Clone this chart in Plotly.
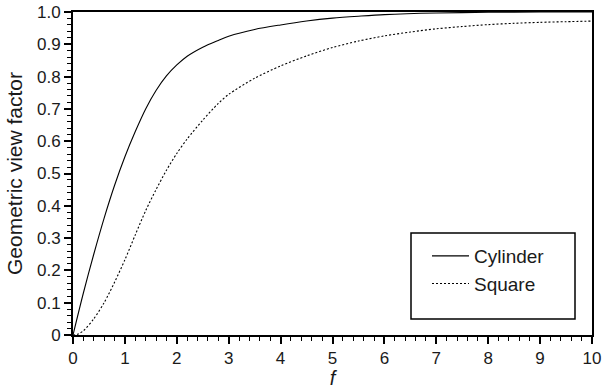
import plotly.graph_objects as go

# Data
f_cyl = [0, 0.2, 0.4, 0.6, 0.8, 1.0, 1.2, 1.4, 1.6, 1.8, 2.0, 2.2, 2.5, 2.8, 3.0,
         3.5, 4.0, 4.5, 5.0, 5.5, 6.0, 7.0, 8.0, 9.0, 10.0]
cylinder = [0, 0.13, 0.25, 0.362, 0.463, 0.552, 0.63, 0.70, 0.757, 0.802, 0.836,
            0.863, 0.891, 0.912, 0.925, 0.946, 0.96, 0.972, 0.981, 0.987, 0.992,
            0.997, 0.999, 1.0, 1.0]

f_sq = [0, 0.1, 0.2, 0.4, 0.6, 0.8, 1.0, 1.2, 1.4, 1.6, 1.8, 2.0, 2.2, 2.5, 2.8,
        3.0, 3.5, 4.0, 4.5, 5.0, 5.5, 6.0, 6.5, 7.0, 7.5, 8.0, 8.5, 9.0, 9.5, 10.0]
square = [0, 0.003, 0.013, 0.05, 0.1, 0.163, 0.233, 0.31, 0.385, 0.45, 0.51,
          0.562, 0.607, 0.665, 0.717, 0.745, 0.795, 0.833, 0.864, 0.89, 0.91,
          0.926, 0.938, 0.948, 0.955, 0.961, 0.965, 0.968, 0.970, 0.972]

x_ticks = [0, 1, 2, 3, 4, 5, 6, 7, 8, 9, 10]
y_ticks = [0, 0.1, 0.2, 0.3, 0.4, 0.5, 0.6, 0.7, 0.8, 0.9, 1.0]
y_labels = ["0", "0.1", "0.2", "0.3", "0.4", "0.5", "0.6", "0.7", "0.8", "0.9", "1.0"]

FONT = "Liberation Sans, Arial, sans-serif"
TXT = "#1a1a1a"

# plot-area pixel geometry (used to place the legend frame in paper coordinates)
L, R, T, B = 73, 592, 12, 335
PW, PH = R - L, B - T

def px(xp):
    return (xp - L) / PW

def py(yp):
    return (B - yp) / PH

fig = go.Figure()
fig.add_trace(go.Scatter(x=f_cyl, y=cylinder, mode="lines", name="Cylinder",
                         legendgroup="a",
                         line=dict(color="black", width=1.1, shape="spline", smoothing=0.8)))
fig.add_trace(go.Scatter(x=f_sq, y=square, mode="lines", name="Square",
                         legendgroup="b",
                         line=dict(color="black", width=1.1, dash="2px,2px",
                                   shape="spline", smoothing=0.8)))

axis_common = dict(showline=True, linecolor="black", linewidth=2, mirror=True,
                   ticks="outside", tickcolor="black", tickwidth=1.5, ticklen=7,
                   showgrid=False, zeroline=False, ticklabeloverflow="allow",
                   automargin=False,
                   tickfont=dict(family=FONT, size=17, color=TXT))

fig.update_xaxes(range=[0, 10], tickvals=x_ticks, ticktext=[str(v) for v in x_ticks],
                 minor=dict(dtick=0.2, ticks="outside", ticklen=4, tickcolor="black",
                            tickwidth=1),
                 title=dict(text="<i>f</i>", font=dict(family=FONT, size=20, color=TXT),
                            standoff=2),
                 **axis_common)
fig.update_yaxes(range=[0, 1.0], tickvals=y_ticks, ticktext=y_labels,
                 minor=dict(dtick=0.02, ticks="outside", ticklen=4, tickcolor="black",
                            tickwidth=1),
                 title=dict(text="Geometric view factor",
                            font=dict(family=FONT, size=21, color=TXT), standoff=9),
                 **axis_common)

# legend frame
fig.add_shape(type="rect", xref="paper", yref="paper",
              x0=px(411), x1=px(575), y0=py(319), y1=py(233),
              line=dict(color="black", width=1.5), fillcolor="white", layer="below")

fig.update_layout(
    width=602, height=389,
    margin=dict(l=L, r=602 - R, t=T, b=389 - B),
    plot_bgcolor="white", paper_bgcolor="white",
    font=dict(family=FONT, size=17, color=TXT),
    showlegend=True,
    legend=dict(x=px(427), y=py(237), xanchor="left", yanchor="top",
                bgcolor="rgba(0,0,0,0)", borderwidth=0, tracegroupgap=0, itemwidth=37,
                traceorder="grouped", font=dict(family=FONT, size=19, color=TXT)),
)

fig.write_html("out.html")
